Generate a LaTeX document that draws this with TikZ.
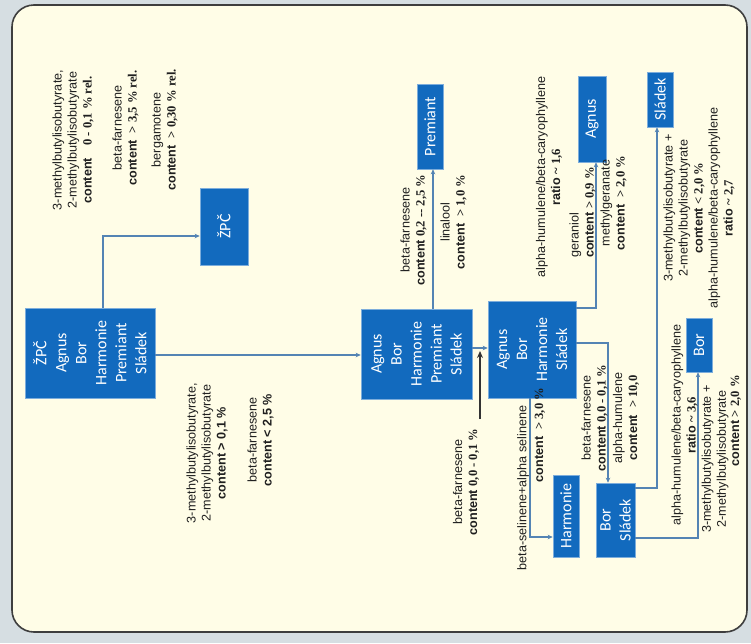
\documentclass[tikz,border=0pt]{standalone}
\usepackage{fontspec}
\setmainfont{Liberation Sans}
\newfontfamily\boxfont{Carlito}
\newfontfamily\numfont{Liberation Serif}
\usetikzlibrary{arrows.meta}
\definecolor{outer}{RGB}{214,222,226}
\definecolor{paper}{RGB}{255,253,231}
\definecolor{boxblue}{RGB}{18,106,190}
\definecolor{conn}{RGB}{84,132,180}
\definecolor{framec}{RGB}{62,62,62}
\newcommand{\nm}[1]{{\numfont\bfseries #1}}
\tikzset{
  hop/.style={fill=boxblue, draw=boxblue!55!white, line width=0.6pt, text=white,
    font=\boxfont\fontsize{16}{20}\selectfont, rotate=90, inner sep=0pt, align=center},
  lbl/.style={rotate=90, align=center, font=\fontsize{12.6}{15}\selectfont, text=black!88, inner sep=0pt},
  link/.style={draw=conn, line width=1.2pt, -{Stealth[length=5pt,width=4.5pt]}},
  darklink/.style={draw=black!80, line width=1.6pt, -{Stealth[length=7pt,width=6pt]}},
}
\begin{document}
\begin{tikzpicture}[x=1pt,y=-1pt]
\useasboundingbox (0,0) rectangle (751,643);
\fill[outer] (0,0) rectangle (751,643);
\draw[framec, line width=1.6pt, fill=paper, rounded corners=22pt] (12,5) rectangle (747,632);

% boxes (minimum width = vertical extent, minimum height = horizontal extent)
\node[hop, minimum width=90pt, minimum height=130pt] (A) at (90,353) {ŽPČ\\Agnus\\Bor\\Harmonie\\Premiant\\Sládek};
\node[hop, minimum width=77pt, minimum height=48pt] (B) at (224,226.5) {ŽPČ};
\node[hop, minimum width=90pt, minimum height=111pt] (C) at (416.5,354) {Agnus\\Bor\\Harmonie\\Premiant\\Sládek};
\node[hop, minimum width=85pt, minimum height=26pt] (D) at (430,126.5) {Premiant};
\node[hop, minimum width=97pt, minimum height=88pt] (E) at (532,349.5) {Agnus\\Bor\\Harmonie\\Sládek};
\node[hop, minimum width=86pt, minimum height=28pt] (F) at (592,119) {Agnus};
\node[hop, minimum width=55pt, minimum height=26pt] (G) at (660,99.5) {Sládek};
\node[hop, minimum width=82pt, minimum height=26pt] (H) at (566,516) {Harmonie};
\node[hop, minimum width=74pt, minimum height=39pt] (I) at (615.5,520) {Bor\\Sládek};
\node[hop, minimum width=54pt, minimum height=26pt] (J) at (699,345) {Bor};

% connectors
\draw[link] (A.east -| 103,0) |- (B.north |- 0,236);
\draw[link] (A.south |- 0,355) -- (C.north |- 0,355);
\draw[link] (C.east -| 433,0) -- (D.west -| 433,0);
\draw[link] (C.south |- 0,348) -- (E.north |- 0,348);
\draw[link] (E.south |- 0,308) -| (F.west -| 596,0);
\draw[link] (E.south |- 0,343) -| (I.east -| 608,0);
\draw[link] (E.west -| 530,0) |- (H.north |- 0,537);
\draw[link] (I.south |- 0,488) -| (G.west -| 657,0);
\draw[link] (I.south |- 0,538) -| (J.west -| 698,0);
\coordinate (k1) at (480,419);
\coordinate (k2) at (480,351);
\draw[darklink] (k1) -- (k2);

% labels
\node[lbl] (g1a) at (73,140) {3-methylbutylisobutyrate,\\2-methylbutylisobutyrate\\\textbf{content}\quad\nm{0 - 0,1 \% rel.}};
\node[lbl] (g1b) at (125.5,128) {beta-farnesene\\\textbf{content}\ \ \nm{> 3,5 \% rel.}};
\node[lbl] (g1c) at (164.5,130) {bergamotene\\\textbf{content}\ \ \nm{> 0,30 \% rel.}};
\node[lbl] (g2a) at (207,453) {3-methylbutylisobutyrate,\\2-methylbutylisobutyrate\\\textbf{content > 0,1 \%}};
\node[lbl] (g2b) at (260.5,440) {beta-farnesene\\\textbf{content < 2,5 \%}};
\node[lbl] (g3) at (413.5,230) {beta-farnesene\\\textbf{content} \nm{0,2 -- 2,5 \%}};
\node[lbl] (g4) at (453.5,222) {linalool\\\textbf{content}\ \ \nm{> 1,0 \%}};
\node[lbl] (g5) at (549,177) {alpha-humulene/beta-caryophyllene\\\textbf{ratio} \nm{\textasciitilde\ 1,6}};
\node[lbl, anchor=west, align=left] (g6) at (582.5,258) {geraniol\\\textbf{content} \nm{> 0,9 \%}};
\node[lbl] (g7) at (613.5,203) {methylgeranate\\\textbf{content}\ \ \nm{> 2,0 \%}};
\node[lbl] (g8) at (699,208) {3-methylbutylisobutyrate +\\2-methylbutylisobutyrate\\\textbf{content} \nm{< 2,0 \%}\\alpha-humulene/beta-caryophyllene\\\textbf{ratio} \nm{\textasciitilde\ 2,7}};
\node[lbl] (g9) at (684.5,425) {alpha-humulene/beta-caryophyllene\\\textbf{ratio} \nm{\textasciitilde\ 3,6}};
\node[lbl] (g10a) at (715,459) {3-methylbutylisobutyrate +\\2-methylbutylisobutyrate};
\node[lbl, anchor=east] (g10b) at (736,375) {\textbf{content} \nm{> 2,0 \%}};
\node[lbl] (g11a) at (523,488) {beta-selinene+alpha selinene};
\node[lbl] (g11b) at (540,435) {\textbf{content}\ \ \nm{> 3,0 \%}};
\node[lbl] (g12) at (466,482) {beta-farnesene\\\textbf{content} \nm{0,0 - 0,1 \%}};
\node[lbl] (g13a) at (594.5,418) {beta-farnesene\\\textbf{content} \nm{0,0 - 0,1 \%}};
\node[lbl] (g13b) at (626,418) {alpha-humulene\\\textbf{content}\ \ \nm{> 10,0}};
\end{tikzpicture}
\end{document}
